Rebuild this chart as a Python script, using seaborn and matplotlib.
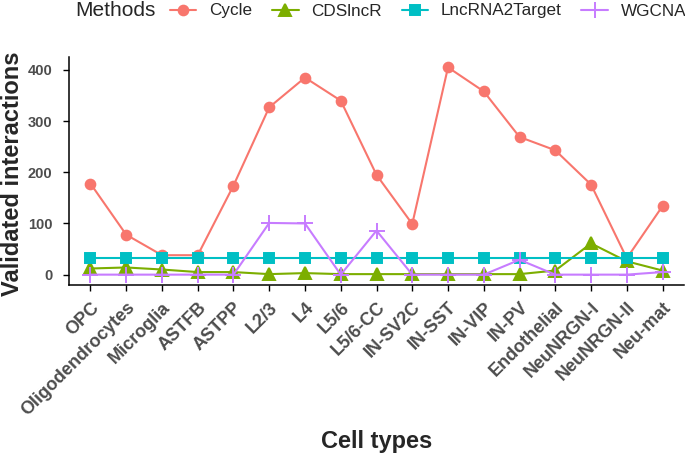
import pandas as pd
import matplotlib
matplotlib.use("Agg")
import matplotlib.pyplot as plt
from matplotlib.lines import Line2D
import seaborn as sns

# values
cell_types = ["OPC", "Oligodendrocytes", "Microglia", "ASTFB", "ASTPP", "L2/3", "L4",
              "L5/6", "L5/6-CC", "IN-SV2C", "IN-SST", "IN-VIP", "IN-PV", "Endothelial",
              "NeuNRGN-I", "NeuNRGN-II", "Neu-mat"]
methods = ["Cycle", "CDSlncR", "LncRNA2Target", "WGCNA"]

cycle = [178, 78, 38, 38, 174, 327, 385, 340, 195, 99, 405, 358, 269, 243, 176, 32, 134]
cdslncr = [12, 14, 10, 5, 5, 1, 3, 1, 1, 1, 1, 1, 1, 8, 61, 26, 8]
lncrna2target = [32] * 17
wgcna = [0, 0, 0, 0, 0, 101, 100, 0, 86, 0, 0, 0, 29, 0, 0, 0, 5]

colors = ["#F8766D", "#7CAE00", "#00BFC4", "#C77CFF"]
marker_list = ["o", "^", "s", "+"]
marker_sizes = [7, 8, 7, 12]

df = pd.DataFrame({
    "Cell types": cell_types * 4,
    "Methods": [m for m in methods for _ in cell_types],
    "Validated interactions": cycle + cdslncr + lncrna2target + wgcna,
})

sns.set_theme(style="ticks")
plt.rcParams["font.family"] = ["Liberation Sans", "DejaVu Sans"]

fig = plt.figure(figsize=(6.85, 4.53), dpi=100)
fig.patch.set_facecolor("white")
ax = fig.add_axes([69 / 685, 168 / 453, 615 / 685, 228 / 453])
ax.set_facecolor("white")

# one call per method so filled and line-art markers can coexist
for m, c, mk, ms in zip(methods, colors, marker_list, marker_sizes):
    sns.lineplot(data=df[df["Methods"] == m], x="Cell types", y="Validated interactions",
                 color=c, marker=mk, markersize=ms, markeredgecolor=c,
                 markeredgewidth=1.4, linewidth=1.5, sort=False, ax=ax)

ax.set_xlim(-0.6, len(cell_types) - 0.4)
ax.set_ylim(-20.25, 425.25)
ax.set_yticks([0, 100, 200, 300, 400])
ax.grid(False)
for side in ["top", "right"]:
    ax.spines[side].set_visible(False)
for side in ["left", "bottom"]:
    ax.spines[side].set_color("black")
    ax.spines[side].set_linewidth(1.1)

ax.tick_params(axis="both", which="both", direction="out", length=4, width=1,
               color="black", top=False, right=False)
ax.tick_params(axis="y", labelsize=10.5, labelcolor="#4D4D4D", pad=8)
ax.tick_params(axis="x", labelsize=13, labelcolor="#4D4D4D", pad=6)
ax.set_xticks(range(len(cell_types)))
ax.set_xticklabels(cell_types, rotation=45, ha="right", va="top",
                   rotation_mode="anchor", fontweight="bold")
for lab in ax.get_yticklabels():
    lab.set_fontweight("bold")

ax.set_xlabel("Cell types", fontsize=17, fontweight="bold")
ax.set_ylabel("Validated interactions", fontsize=17, fontweight="bold")
ax.xaxis.set_label_coords(0.5, -(425 - 285) / 228 - 0.02)
ax.yaxis.set_label_coords(-(69 - 24) / 615, 0.49)

# legend across the top
handles = [Line2D([], [], color=c, marker=mk, markersize=ms, linewidth=1.5,
                  markeredgecolor=c, markeredgewidth=1.4)
           for c, mk, ms in zip(colors, marker_list, marker_sizes)]
fig.text(75 / 685, 1 - 11 / 453, "Methods", fontsize=15, va="center", ha="left")
fig.legend(handles, methods, loc="center left", bbox_to_anchor=(170 / 685, 1 - 11 / 453),
           ncol=4, frameon=False, fontsize=12.3, handlelength=1.55, handletextpad=0.75,
           columnspacing=1.15, borderpad=0, borderaxespad=0)

fig.savefig("out.png", dpi=100, facecolor="white")
